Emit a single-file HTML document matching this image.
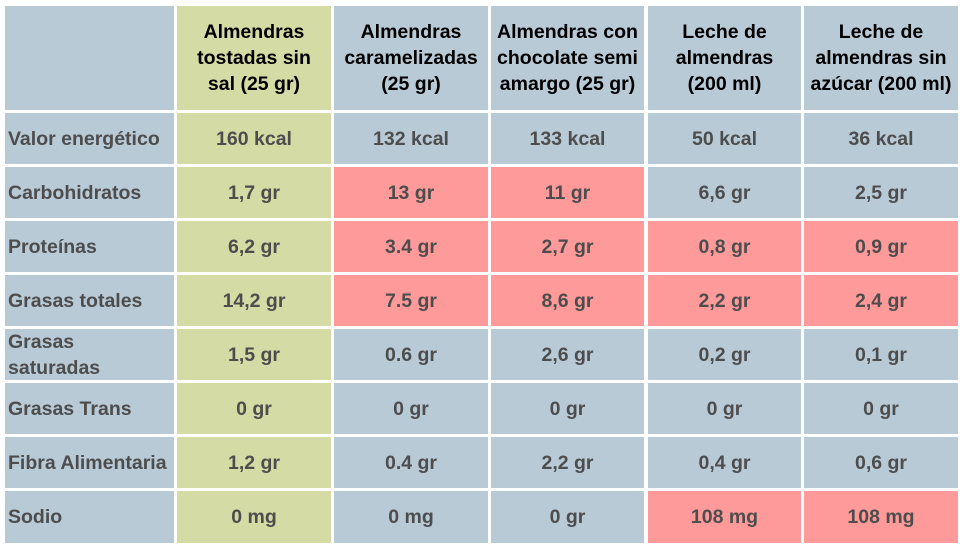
<!DOCTYPE html>
<html><head><meta charset="utf-8"><style>
body{margin:0;width:963px;height:548px;background:#fff;position:relative;overflow:hidden;font-family:"Liberation Sans",Arial,sans-serif;font-weight:bold}
.c{position:absolute;display:flex;align-items:center;justify-content:center;text-align:center;font-size:19.5px;color:#4d4d4d;background:#b9cad7;line-height:26px}
.l{justify-content:flex-start;padding-left:3px;text-align:left;box-sizing:border-box;line-height:26px}
.h{color:#000}
.g{background:#d5dba5}
.r{background:#ff9a9a}
</style></head><body>
<script>
const xs=[[5,174],[177,331],[334,488],[491,644],[648,801],[804,958]];
const ys=[[6,110],[113,164],[167,218],[221,272],[275,326],[329,380],[383,434],[437,488],[491,543]];
const headers=["","Almendras<br>tostadas sin<br>sal (25 gr)","Almendras<br>caramelizadas<br>(25 gr)","Almendras con<br>chocolate semi<br>amargo (25 gr)","Leche de<br>almendras<br>(200 ml)","Leche de<br>almendras sin<br>azúcar (200 ml)"];
const rows=[
["Valor energético","160 kcal","132 kcal","133 kcal","50 kcal","36 kcal"],
["Carbohidratos","1,7 gr","13 gr","11 gr","6,6 gr","2,5 gr"],
["Proteínas","6,2 gr","3.4 gr","2,7 gr","0,8 gr","0,9 gr"],
["Grasas totales","14,2 gr","7.5 gr","8,6 gr","2,2 gr","2,4 gr"],
["Grasas<br>saturadas","1,5 gr","0.6 gr","2,6 gr","0,2 gr","0,1 gr"],
["Grasas Trans","0 gr","0 gr","0 gr","0 gr","0 gr"],
["Fibra Alimentaria","1,2 gr","0.4 gr","2,2 gr","0,4 gr","0,6 gr"],
["Sodio","0 mg","0 mg","0 gr","108 mg","108 mg"]];
const red=[[],[2,3],[2,3,4,5],[2,3,4,5],[],[],[],[4,5]];
function cell(html,ci,ri,cls,name){
 const d=document.createElement('div');
 d.className='c '+cls;
 d.innerHTML=html;
 d.style.left=xs[ci][0]+'px';d.style.width=(xs[ci][1]-xs[ci][0])+'px';
 d.style.top=ys[ri][0]+'px';d.style.height=(ys[ri][1]-ys[ri][0])+'px';
 
 
 document.body.appendChild(d);
}
headers.forEach((h,i)=>cell(h,i,0,'h'+(i===1?' g':''),'header-cell'));
rows.forEach((r,ri)=>r.forEach((v,ci)=>{
 let cls=ci===0?'l':(ci===1?'g':(red[ri].includes(ci)?'r':''));
 cell(v,ci,ri+1,cls,ci===0?'row-label':'value-cell');
}));
</script>
</body></html>
